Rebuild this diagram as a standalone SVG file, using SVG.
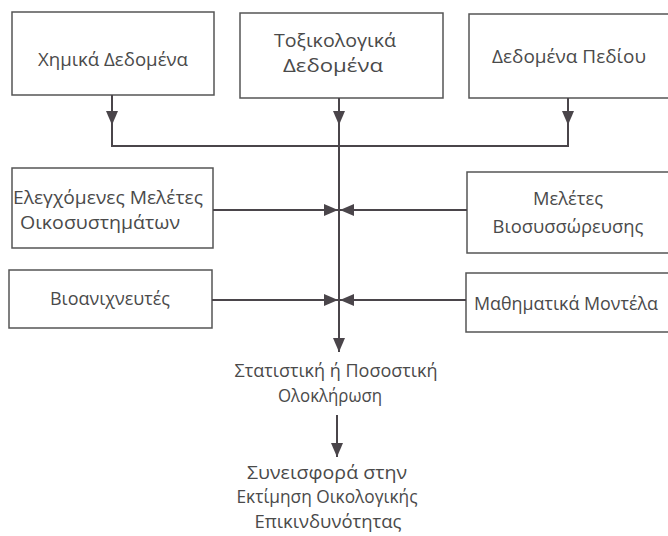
<svg xmlns="http://www.w3.org/2000/svg" width="668" height="536" viewBox="0 0 668 536">
<style>
.box{fill:#fff;stroke:#555;stroke-width:1.5}
.t{font-family:"Open Sans","Liberation Sans",sans-serif;font-size:19px;fill:#4a4a4a;text-anchor:middle}
.c{stroke:#4a454a;stroke-width:2;fill:none}
</style>
<defs>
<marker id="a" viewBox="0 0 14 12" refX="14" refY="6" markerWidth="14" markerHeight="12" markerUnits="userSpaceOnUse" orient="auto"><path d="M0,0 L14,6 L0,12 z" fill="#4a454a"/></marker>
</defs>
<rect width="668" height="536" fill="#fff"/>
<g id="n1"><rect class="box" x="12" y="12" width="202" height="83"/><text class="t" x="113" y="66" textLength="150" lengthAdjust="spacingAndGlyphs">Χημικά Δεδομένα</text></g>
<g id="n2"><rect class="box" x="240" y="13" width="203" height="85"/><text class="t" x="335" y="47" textLength="122" lengthAdjust="spacingAndGlyphs">Τοξικολογικά</text><text class="t" x="333" y="72" textLength="100" lengthAdjust="spacingAndGlyphs">Δεδομένα</text></g>
<g id="n3"><rect class="box" x="469" y="14" width="205" height="84"/><text class="t" x="569" y="63" textLength="154" lengthAdjust="spacingAndGlyphs">Δεδομένα Πεδίου</text></g>
<g id="n4"><rect class="box" x="12" y="168" width="201" height="80"/><text class="t" x="108" y="204" textLength="190" lengthAdjust="spacingAndGlyphs">Ελεγχόμενες Μελέτες</text><text class="t" x="100" y="229" textLength="160" lengthAdjust="spacingAndGlyphs">Οικοσυστημάτων</text></g>
<g id="n5"><rect class="box" x="467" y="172" width="207" height="81"/><text class="t" x="568" y="205" textLength="70" lengthAdjust="spacingAndGlyphs">Μελέτες</text><text class="t" x="568" y="233" textLength="151" lengthAdjust="spacingAndGlyphs">Βιοσυσσώρευσης</text></g>
<g id="n6"><rect class="box" x="9" y="270" width="203" height="58"/><text class="t" x="110" y="305" textLength="120" lengthAdjust="spacingAndGlyphs">Βιοανιχνευτές</text></g>
<g id="n7"><rect class="box" x="466" y="273" width="208" height="59"/><text class="t" x="566" y="310" textLength="184" lengthAdjust="spacingAndGlyphs">Μαθηματικά Μοντέλα</text></g>
<g id="n8"><text class="t" x="336" y="377" textLength="203" lengthAdjust="spacingAndGlyphs">Στατιστική ή Ποσοστική</text><text class="t" x="330" y="402" textLength="104" lengthAdjust="spacingAndGlyphs">Ολοκλήρωση</text></g>
<g id="n9"><text class="t" x="327" y="479" textLength="160" lengthAdjust="spacingAndGlyphs">Συνεισφορά στην</text><text class="t" x="327" y="503" textLength="181" lengthAdjust="spacingAndGlyphs">Εκτίμηση Οικολογικής</text><text class="t" x="328" y="528" textLength="147" lengthAdjust="spacingAndGlyphs">Επικινδυνότητας</text></g>
<g id="connectors">
<path class="c" d="M112,95 V125" marker-end="url(#a)"/>
<path class="c" d="M339,98 V125" marker-end="url(#a)"/>
<path class="c" d="M568,98 V125" marker-end="url(#a)"/>
<path class="c" d="M112,125 V146 H568 V125"/>
<path class="c" d="M339,125 V352" marker-end="url(#a)"/>
<path class="c" d="M213,210 H338" marker-end="url(#a)"/>
<path class="c" d="M467,210 H340" marker-end="url(#a)"/>
<path class="c" d="M212,300 H338" marker-end="url(#a)"/>
<path class="c" d="M466,300 H340" marker-end="url(#a)"/>
<path class="c" d="M337,415 V457" marker-end="url(#a)"/>
</g>
</svg>
